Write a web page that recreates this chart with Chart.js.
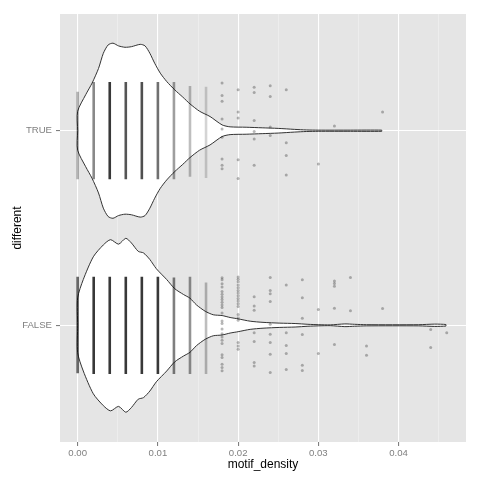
<!DOCTYPE html>
<html>
<head>
<meta charset="utf-8">
<script src="https://cdn.jsdelivr.net/npm/chart.js@4.4.1/dist/chart.umd.min.js"></script>
<style>
  html, body { margin: 0; padding: 0; background: #fff; }
  #wrap { width: 480px; height: 480px; }
</style>
</head>
<body>
<div id="wrap"><canvas id="violinChart" width="480" height="480"></canvas></div>
<script>
// y axis is discrete: FALSE sits at 1, TRUE at 2
const yCategories = ['FALSE', 'TRUE'];
const xMajorTicks = [0, 0.01, 0.02, 0.03, 0.04];
const xMinorTicks = [0.005, 0.015, 0.025, 0.035, 0.045];
const xTickLabels = ['0.00', '0.01', '0.02', '0.03', '0.04'];

// violin outlines (half width in category units)
const trueDensX = [0, 0.0010, 0.0018, 0.0026, 0.0032, 0.0038, 0.0044, 0.0051, 0.0059, 0.0067, 0.0078, 0.0084, 0.0090, 0.0096, 0.0103, 0.0111, 0.0121, 0.0131, 0.0140, 0.0152, 0.0165, 0.0180, 0.0190, 0.0210, 0.0230, 0.0250, 0.0270, 0.0285, 0.0300, 0.0340, 0.0379];
const trueHalf = [0.10, 0.185, 0.245, 0.32, 0.398, 0.441, 0.45, 0.436, 0.429, 0.432, 0.444, 0.436, 0.398, 0.347, 0.296, 0.253, 0.21, 0.173, 0.138, 0.10, 0.073, 0.03, 0.02, 0.018, 0.015, 0.012, 0.007, 0.004, 0.003, 0.003, 0.003];
const falseDensX = [0, 0.0007, 0.00195, 0.0032, 0.0041, 0.0051, 0.0060, 0.0067, 0.00755, 0.0082, 0.0090, 0.0098, 0.0111, 0.0121, 0.0132, 0.0140, 0.0148, 0.0159, 0.0169, 0.0180, 0.0190, 0.0200, 0.0215, 0.0231, 0.0252, 0.0271, 0.0287, 0.0300, 0.0315, 0.0333, 0.0345, 0.0360, 0.0425, 0.0445, 0.0459];
const falseHalf = [0.141, 0.235, 0.352, 0.413, 0.44, 0.417, 0.447, 0.423, 0.38, 0.372, 0.338, 0.291, 0.235, 0.188, 0.158, 0.139, 0.105, 0.072, 0.054, 0.05, 0.04, 0.033, 0.021, 0.015, 0.011, 0.009, 0.005, 0.003, 0.002, 0.007, 0.005, 0.003, 0.003, 0.006, 0.004];

// dense jitter columns: x, jitter range, rough point count
const trueColX = [0, 0.002, 0.004, 0.006, 0.008, 0.010, 0.012, 0.014, 0.016];
const trueColTop = [0.2, 0.25, 0.25, 0.25, 0.25, 0.25, 0.25, 0.23, 0.226];
const trueColBottom = [-0.25, -0.25, -0.25, -0.25, -0.25, -0.25, -0.25, -0.236, -0.243];
const trueColCount = [45, 90, 220, 160, 170, 120, 70, 40, 25];
const falseColX = [0, 0.002, 0.004, 0.006, 0.008, 0.010, 0.012, 0.014, 0.016];
const falseColTop = [0.249, 0.25, 0.25, 0.25, 0.25, 0.25, 0.245, 0.25, 0.22];
const falseColBottom = [-0.247, -0.25, -0.25, -0.25, -0.25, -0.25, -0.25, -0.25, -0.25];
const falseColCount = [130, 220, 320, 300, 260, 220, 100, 80, 40];

// sparse jitter points (jitter: offset from category, up is positive)
const trueSparseX = [0.018, 0.020, 0.022, 0.024, 0.026, 0.030, 0.032, 0.038];
const trueSparseJitter = [
    [0.245, 0.181, 0.152, 0.06, 0.009, -0.034, -0.145, -0.178, -0.196],
    [0.21, 0.096, 0.065, -0.149, -0.245],
    [0.224, 0.196, 0.053, -0.004, -0.043, -0.178],
    [0.231, 0.176, 0.019, -0.024],
    [0.21, -0.062, -0.127, -0.227],
    [-0.171],
    [0.024],
    [0.096]
];
const falseSparseX = [0.018, 0.020, 0.022, 0.024, 0.026, 0.028, 0.030, 0.032, 0.034, 0.036, 0.038, 0.044, 0.046];
const falseSparseJitter = [
    [0.244, 0.234, 0.214, 0.197, 0.173, 0.159, 0.145, 0.132, 0.118, 0.104, 0.091, 0.063, 0.022, 0.009, -0.019, -0.043, -0.06, -0.077, -0.094, -0.152, -0.166, -0.2, -0.217, -0.234],
    [0.248, 0.236, 0.224, 0.207, 0.193, 0.179, 0.166, 0.152, 0.138, 0.125, 0.111, 0.097, 0.056, 0.039, 0.026, -0.089, -0.106, -0.123],
    [0.147, 0.099, 0.077, -0.038, -0.084, -0.191, -0.209],
    [0.245, 0.179, 0.162, 0.122, 0.005, -0.046, -0.089, -0.149, -0.243],
    [0.207, -0.038, -0.104, -0.145, -0.227],
    [0.234, 0.142, 0.036, -0.048, -0.205, -0.232],
    [0.081, -0.145],
    [0.227, 0.215, 0.2, 0.087, -0.099],
    [0.245, 0.075],
    [-0.106, -0.154],
    [0.086],
    [-0.022, -0.114],
    [-0.038]
];

// build one half of a violin, closed back onto the centre line
function violinHalf(xs, hs, center, sign) {
    const pts = [{ x: xs[0], y: center }];
    xs.forEach((x, i) => pts.push({ x: x, y: center + sign * hs[i] }));
    pts.push({ x: xs[xs.length - 1], y: center });
    return pts;
}

function violinDatasets(xs, hs, center) {
    return [1, -1].map(sign => ({
        data: violinHalf(xs, hs, center, sign),
        borderColor: '#333333',
        borderWidth: 1,
        backgroundColor: '#ffffff',
        fill: { value: center },
        pointRadius: 0,
        tension: 0.25,
        order: 10
    }));
}

function columnDatasets(xs, tops, bottoms, counts, center) {
    return xs.map((x, i) => {
        // darker when many points pile up on the column
        const layers = counts[i] * 3 / ((tops[i] - bottoms[i]) * 194.5);
        const alpha = Math.min(0.78, 1 - Math.pow(0.8, layers));
        return {
            data: [{ x: x, y: center + tops[i] }, { x: x, y: center + bottoms[i] }],
            borderColor: 'rgba(0,0,0,' + alpha.toFixed(3) + ')',
            borderWidth: 2.6,
            borderCapStyle: 'butt',
            pointRadius: 0,
            fill: false,
            order: 5
        };
    });
}

function sparseDataset(xs, jitters, center) {
    const pts = [];
    xs.forEach((x, i) => {
        jitters[i].forEach(j => pts.push({ x: x, y: center + j }));
    });
    return {
        data: pts,
        showLine: false,
        pointRadius: 1.5,
        pointBorderWidth: 0,
        pointBackgroundColor: 'rgba(0,0,0,0.28)',
        fill: false,
        order: 1
    };
}

const panelBackground = {
    id: 'panelBackground',
    beforeDraw(chart) {
        const { ctx, chartArea } = chart;
        ctx.save();
        ctx.fillStyle = '#E5E5E5';
        ctx.fillRect(chartArea.left, chartArea.top, chartArea.right - chartArea.left, chartArea.bottom - chartArea.top);
        ctx.restore();
    }
};

const datasets = [].concat(
    violinDatasets(trueDensX, trueHalf, 2),
    violinDatasets(falseDensX, falseHalf, 1),
    columnDatasets(trueColX, trueColTop, trueColBottom, trueColCount, 2),
    columnDatasets(falseColX, falseColTop, falseColBottom, falseColCount, 1),
    [sparseDataset(trueSparseX, trueSparseJitter, 2), sparseDataset(falseSparseX, falseSparseJitter, 1)]
);

const tickFont = { family: 'Liberation Sans', size: 9.6 };
const titleFont = { family: 'Liberation Sans', size: 12 };

var ctx = document.getElementById('violinChart').getContext('2d');
var violinChart = new Chart(ctx, {
    type: 'line',
    data: { datasets: datasets },
    plugins: [panelBackground],
    options: {
        responsive: false,
        animation: false,
        devicePixelRatio: 1,
        layout: { padding: { top: 14, right: 14, left: 0, bottom: 0 } },
        plugins: {
            legend: { display: false },
            tooltip: { enabled: false },
            filler: { drawTime: 'beforeDatasetsDraw' }
        },
        scales: {
            x: {
                type: 'linear',
                min: -0.0022,
                max: 0.0484,
                border: { display: false },
                afterBuildTicks: scale => {
                    scale.ticks = xMajorTicks.concat(xMinorTicks).sort((a, b) => a - b).map(v => ({ value: v }));
                },
                afterFit: scale => { scale.height = 38; },
                grid: {
                    color: c => xMajorTicks.includes(c.tick.value) ? '#ffffff' : '#F2F2F2',
                    lineWidth: c => xMajorTicks.includes(c.tick.value) ? 1.1 : 0.6,
                    tickColor: c => xMajorTicks.includes(c.tick.value) ? '#7F7F7F' : 'rgba(0,0,0,0)',
                    tickLength: 4
                },
                ticks: {
                    autoSkip: false,
                    maxRotation: 0,
                    minRotation: 0,
                    padding: 2,
                    color: '#7F7F7F',
                    font: tickFont,
                    callback: value => {
                        const i = xMajorTicks.indexOf(value);
                        return i >= 0 ? xTickLabels[i] : '';
                    }
                },
                title: {
                    display: true,
                    text: 'motif_density',
                    color: '#000000',
                    font: titleFont,
                    padding: { top: 0, bottom: 8.5 }
                }
            },
            y: {
                type: 'linear',
                min: 0.4,
                max: 2.6,
                border: { display: false },
                afterBuildTicks: scale => {
                    scale.ticks = [{ value: 1 }, { value: 2 }];
                },
                afterFit: scale => { scale.width = 60; },
                grid: {
                    color: '#ffffff',
                    lineWidth: 1.1,
                    tickColor: '#7F7F7F',
                    tickLength: 4
                },
                ticks: {
                    padding: 4,
                    color: '#7F7F7F',
                    font: tickFont,
                    callback: value => yCategories[value - 1]
                },
                title: {
                    display: true,
                    text: 'different',
                    color: '#000000',
                    font: titleFont,
                    padding: { top: 10, bottom: 0 }
                }
            }
        }
    }
});
</script>
</body>
</html>
